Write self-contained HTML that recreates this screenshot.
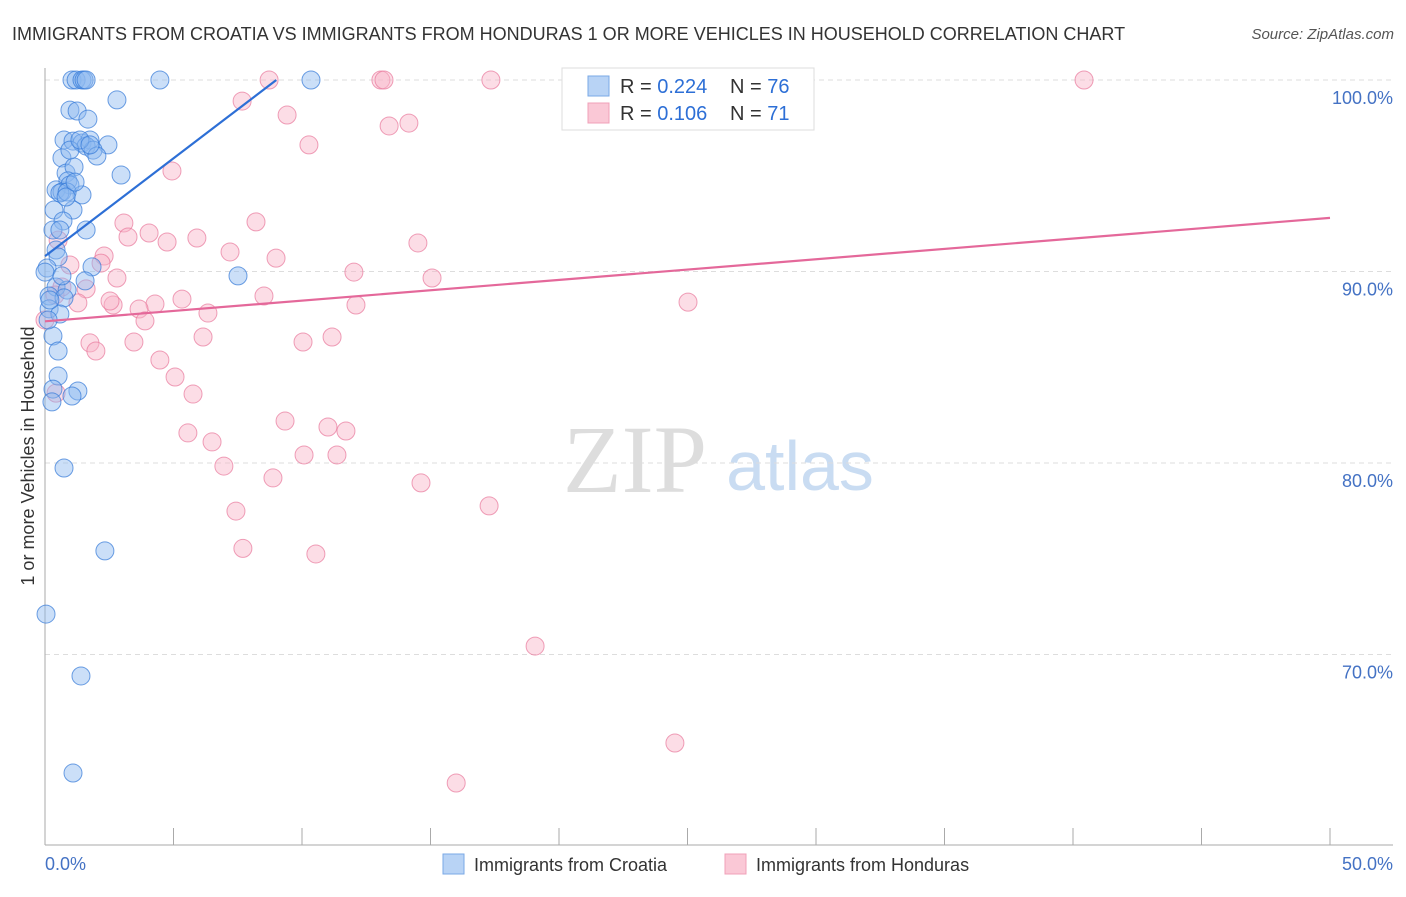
<!DOCTYPE html>
<html><head><meta charset="utf-8"><style>
body{margin:0;background:#fff;font-family:"Liberation Sans",sans-serif;}
</style></head><body>
<svg width="1406" height="892" font-family="Liberation Sans, sans-serif">
<text x="12" y="40" font-size="18" fill="#333">IMMIGRANTS FROM CROATIA VS IMMIGRANTS FROM HONDURAS 1 OR MORE VEHICLES IN HOUSEHOLD CORRELATION CHART</text>
<text x="1394" y="39" font-size="15" fill="#555" font-style="italic" text-anchor="end">Source: ZipAtlas.com</text>
<text x="635" y="492" font-size="96" fill="#ddd" font-family="Liberation Serif, serif" text-anchor="middle">ZIP</text>
<text x="800" y="490" font-size="70" fill="#c9dcf2" text-anchor="middle">atlas</text>
<g id="grid"></g>
<line x1="45" y1="68" x2="45" y2="845" stroke="#aaa"/>
<line x1="45" y1="845" x2="1393" y2="845" stroke="#aaa"/>
<text transform="translate(34,456) rotate(-90)" font-size="18" fill="#333" text-anchor="middle">1 or more Vehicles in Household</text>
<text x="45" y="870" font-size="18" fill="#4472c4">0.0%</text>
<text x="1393" y="870" font-size="18" fill="#4472c4" text-anchor="end">50.0%</text>
<g id="pts"></g>
<g id="trends"></g>
<g>
<rect x="562" y="68" width="252" height="62" fill="#fff" stroke="#ddd"/>
<rect x="588" y="76" width="21" height="20" fill="#b8d3f5" stroke="#7aa8e6"/>
<rect x="588" y="103" width="21" height="20" fill="#fac8d6" stroke="#f0a0b8"/>
<text x="620" y="93" font-size="20" fill="#333">R = <tspan fill="#2d6fd6">0.224</tspan></text>
<text x="730" y="93" font-size="20" fill="#333">N = <tspan fill="#2d6fd6">76</tspan></text>
<text x="620" y="120" font-size="20" fill="#333">R = <tspan fill="#2d6fd6"> 0.106</tspan></text>
<text x="730" y="120" font-size="20" fill="#333">N = <tspan fill="#2d6fd6"> 71</tspan></text>
</g>
<g>
<rect x="443" y="854" width="21" height="20" fill="#b8d3f5" stroke="#7aa8e6"/>
<text x="474" y="871" font-size="18" fill="#333">Immigrants from Croatia</text>
<rect x="725" y="854" width="21" height="20" fill="#fac8d6" stroke="#f0a0b8"/>
<text x="756" y="871" font-size="18" fill="#333">Immigrants from Honduras</text>
</g>
</svg>
<script>
const yTicks=[100,90,80,70];
const yTickLabels=["100.0%","90.0%","80.0%","70.0%"];
const xTicks=[0,5,10,15,20,25,30,35,40,45,50];
const croatiaX=[1.05,1.21,1.44,1.52,1.60,4.47,10.35,2.80,0.97,1.25,1.67,0.74,1.09,1.44,1.75,2.45,1.60,1.87,2.02,0.66,2.96,0.82,1.13,0.89,0.97,0.43,0.66,1.44,0.58,0.86,0.35,1.09,0.70,0.31,1.60,0.43,0.51,1.83,0.08,7.51,1.56,0.43,0.86,0.16,0.74,0.16,0.58,0.31,0.51,0.51,1.28,1.05,0.31,0.27,0.74,2.33,0.04,1.40,1.09,0.12,0.19,0.58,0.97,1.36,0.82,1.17,0.00,0.66,1.75];
const croatiaY=[100,100,100,100,100,100,100,98.96,98.43,98.38,97.96,96.87,96.81,96.71,96.87,96.61,96.55,96.34,96.03,95.93,95.04,95.14,95.46,94.73,94.52,94.26,94.15,94.00,94.10,94.15,93.21,93.21,92.64,92.17,92.17,91.12,90.76,90.24,90.18,89.77,89.51,89.19,89.03,88.72,88.62,88.05,87.78,86.63,85.85,84.54,83.76,83.50,83.86,83.19,79.74,75.41,72.11,68.88,63.81,87.47,88.51,92.17,96.34,96.87,93.89,94.67,89.97,89.77,96.61];
const hondurasX=[8.72,13.07,13.19,17.35,40.43,7.67,9.42,10.27,13.39,14.16,4.94,25.02,3.07,8.21,4.05,3.23,5.91,4.75,14.51,7.20,2.30,8.99,2.18,0.97,12.02,15.06,2.80,0.66,1.60,8.52,5.33,4.28,1.28,2.65,3.66,6.34,3.89,12.10,0.39,11.17,10.04,6.15,3.46,1.75,1.98,4.47,5.06,5.76,0.43,9.34,11.01,11.71,5.56,6.50,10.08,11.36,6.96,8.87,14.63,7.43,17.28,7.70,10.54,19.07,24.51,16.00,0.51,0.00,2.53,25.49,23.54];
const hondurasY=[100,100,100,100,100,98.90,98.17,96.61,97.60,97.75,95.25,88.40,92.53,92.59,92.01,91.80,91.75,91.54,91.49,91.02,90.81,90.70,90.44,90.34,89.97,89.66,89.66,89.19,89.09,88.72,88.56,88.30,88.36,88.25,88.04,87.83,87.42,88.25,88.77,86.58,86.32,86.58,86.32,86.27,85.85,85.38,84.49,83.60,83.65,82.19,81.88,81.67,81.57,81.10,80.42,80.42,79.84,79.22,78.96,77.49,77.76,75.54,75.25,70.44,65.38,63.29,91.64,87.47,88.46,99.84,100];
const croatiaTrend=[[0,90.8],[9,100]];
const hondurasTrend=[[0,87.4],[50,92.8]];
const NS="http://www.w3.org/2000/svg";
const xs=v=>45+v*25.7, ys=v=>80+(100-v)*19.15;
function mk(tag,attrs,parent){const e=document.createElementNS(NS,tag);for(const k in attrs)e.setAttribute(k,attrs[k]);parent.appendChild(e);return e;}
const grid=document.getElementById('grid');
yTicks.forEach((t,i)=>{
 const l=mk('line',{x1:45,x2:1393,y1:ys(t),y2:ys(t),stroke:'#ddd','stroke-dasharray':'5,4'},grid);
 
 
 const tx=mk('text',{x:1393,y:ys(t)+24,'font-size':18,fill:'#4472c4','text-anchor':'end'},grid);
 tx.textContent=yTickLabels[i];
 
 
});
xTicks.forEach(t=>{
 const l=mk('line',{x1:xs(t),x2:xs(t),y1:828,y2:845,stroke:'#aaa'},grid);
 
 
});
const pts=document.getElementById('pts');
hondurasX.forEach((x,i)=>{
 const c=mk('circle',{cx:xs(x),cy:ys(hondurasY[i]),r:9,fill:'rgba(248,180,200,0.45)',stroke:'rgba(232,120,155,0.7)','stroke-width':1},pts);
 
 
});
croatiaX.forEach((x,i)=>{
 const c=mk('circle',{cx:xs(x),cy:ys(croatiaY[i]),r:9,fill:'rgba(140,185,240,0.45)',stroke:'rgba(50,120,215,0.7)','stroke-width':1},pts);
 
 
});
const tr=document.getElementById('trends');
const a=mk('line',{x1:xs(croatiaTrend[0][0]),y1:ys(croatiaTrend[0][1]),x2:xs(croatiaTrend[1][0]),y2:ys(croatiaTrend[1][1]),stroke:'#2d6fd6','stroke-width':2.2},tr);


const b=mk('line',{x1:xs(hondurasTrend[0][0]),y1:ys(hondurasTrend[0][1]),x2:xs(hondurasTrend[1][0]),y2:ys(hondurasTrend[1][1]),stroke:'#e4689a','stroke-width':2.2},tr);


</script>
</body></html>
